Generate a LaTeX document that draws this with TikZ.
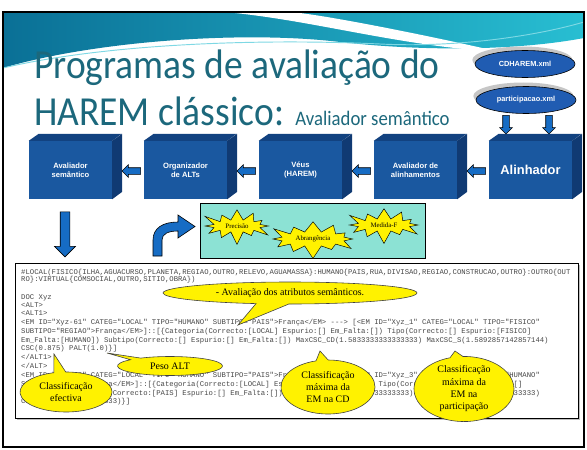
\documentclass[tikz,border=0pt]{standalone}
\usepackage{fontspec}
\usepackage{graphicx}
\setmainfont{Liberation Serif}
\setsansfont{Liberation Sans}
\setmonofont{Liberation Mono}
\newfontfamily\titlefont{Carlito}
\usetikzlibrary{shapes.geometric,shapes.arrows,shapes.symbols,shapes.callouts,shadows}

\definecolor{titleteal}{RGB}{28,104,124}
\definecolor{wavedark}{RGB}{10,112,150}
\definecolor{wavelight}{RGB}{40,190,210}
\definecolor{cubefront}{RGB}{26,88,160}
\definecolor{cubetop}{RGB}{18,66,128}
\definecolor{cubeside}{RGB}{16,58,115}
\definecolor{arrowblue}{RGB}{22,108,196}
\definecolor{filenavy}{RGB}{32,92,178}
\definecolor{aquabox}{RGB}{140,226,212}

\tikzset{
  cubebox/.style={rectangle, fill=cubefront, minimum width=2.49cm, minimum height=1.74cm,
    inner sep=0pt, text=white, align=center, font=\sffamily\bfseries\fontsize{6.5}{8}\selectfont},
  filebox/.style={ellipse, fill=filenavy, draw=black, line width=0.5pt, minimum width=3cm,
    minimum height=0.81cm, inner sep=0pt, text=white, font=\sffamily\bfseries\fontsize{6.3}{7}\selectfont,
    drop shadow={shadow xshift=-0.08cm, shadow yshift=0.12cm, fill=gray!45, opacity=1}},
  blockarrow/.style={single arrow, fill=arrowblue, draw=black, line width=0.5pt, inner sep=0.09cm,
    minimum height=0.56cm, single arrow head extend=0.09cm},
  burst/.style={starburst, starburst points=12, starburst point height=0.42cm, fill=yellow,
    draw=black, line width=0.4pt, inner xsep=0.16cm, inner ysep=0.06cm,
    font=\fontsize{5.8}{6}\selectfont},
  bubble/.style={ellipse callout, fill=yellow, draw=black!75, line width=0.5pt, inner sep=0pt,
    align=center, font=\fontsize{8.5}{10.5}\selectfont},
  codeline/.style={anchor=base west, inner sep=0pt, text=black!72,
    font=\ttfamily\fontsize{6.2}{7}\selectfont}
}

\newcommand\cubesides[1]{%
  \fill[cubetop] (#1.north west) -- ++(10,-7) -- ++(83,0) -- (#1.north east) -- cycle;
  \fill[cubeside] (#1.north east) -- ++(10,-7) -- ++(0,58) -- (#1.south east) -- cycle;}

\begin{document}
\begin{tikzpicture}[x=0.03cm, y=-0.03cm]
\useasboundingbox (0,0) rectangle (587,450);
\fill[white] (0,0) rectangle (587,450);

\shade[left color=wavedark, right color=wavelight] (3,13) -- (584,13) -- (584,38)
  .. controls (520,50) and (430,52) .. (340,42) .. controls (240,30) and (90,42) .. (3,68) -- cycle;
\fill[white] (235,13) .. controls (320,22) and (400,46) .. (500,52) .. controls (430,36) and (340,18) .. (300,13) -- cycle;
\draw[wavelight!60, line width=0.8pt] (3,68) .. controls (100,45) and (250,38) .. (380,44)
  .. controls (460,48) and (540,35) .. (584,22);
\draw[black, line width=1.6pt] (3,12) rectangle (584,447);

\node [anchor=base west, inner sep=0pt, text=titleteal, font=\titlefont\fontsize{32}{36}\selectfont]
  (title1) at (34,78) {\scalebox{1}[1.1]{Programas de avaliação do}};
\node [anchor=base west, inner sep=0pt, text=titleteal, font=\titlefont\fontsize{32}{36}\selectfont]
  (title2) at (34,125) {\scalebox{1}[1.1]{HAREM clássico: {\fontsize{16}{18}\selectfont Avaliador semântico}}};

\node [filebox] (cdharem) at (525,64) {CDHAREM.xml};
\node [filebox] (partic) at (526,100) {participacao.xml};
\node [blockarrow, shape border rotate=270] (down1) at (506,123) {};
\node [blockarrow, shape border rotate=270] (down2) at (549,123) {};

\node [cubebox] (avsem) at (70.5,170) {Avaliador\\semântico};
\node [cubebox] (orgalt) at (185.5,170) {Organizador\\de ALTs};
\node [cubebox] (veus) at (300.5,170) {Véus\\(HAREM)};
\node [cubebox] (avalin) at (415.5,170) {Avaliador de\\alinhamentos};
\node [cubebox, font=\sffamily\bfseries\fontsize{11}{12}\selectfont] (alinh) at (530.5,170) {Alinhador};
\cubesides{avsem}
\cubesides{orgalt}
\cubesides{veus}
\cubesides{avalin}
\cubesides{alinh}

\node [blockarrow, shape border rotate=180] (step1) at (133,171) {};
\node [blockarrow, shape border rotate=180] (step2) at (248,171) {};
\node [blockarrow, shape border rotate=180] (step3) at (363,171) {};
\node [blockarrow, shape border rotate=180] (step4) at (478,171) {};

\node [blockarrow, shape border rotate=270, minimum height=1.35cm, inner sep=0.135cm,
  single arrow head extend=0.17cm] (downlong) at (65,232) {};
\filldraw [fill=arrowblue, draw=black, line width=0.5pt] (153,256) -- (153,240)
  .. controls (153,228) and (163,222) .. (178,222) -- (178,215) -- (195,226.5) -- (178,238)
  -- (178,231) .. controls (168,231) and (162,234) .. (162,240) -- (162,256) -- cycle;

\node [draw=black, fill=aquabox, anchor=north west, inner sep=0pt, minimum width=6.75cm,
  minimum height=1.65cm] (measures) at (200,203) {};
\node [burst] (precisao) at (237,226) {Precisão};
\node [burst] (abrang) at (313,239) {Abrangência};
\node [burst] (medidaf) at (384,225) {Medida-F};

\node [draw=black, fill=white, anchor=north west, inner sep=0pt, minimum width=16.89cm,
  minimum height=4.65cm, drop shadow={shadow xshift=0.05cm, shadow yshift=-0.05cm, fill=gray!50, opacity=1}]
  (codebox) at (15,263) {};
\node [codeline] (l1) at (21,274) {\#LOCAL(FISICO\{ILHA,AGUACURSO,PLANETA,REGIAO,OUTRO,RELEVO,AGUAMASSA\}:HUMANO\{PAIS,RUA,DIVISAO,REGIAO,CONSTRUCAO,OUTRO\}:OUTRO\{OUT};
\node [codeline] (l2) at (21,281.5) {RO\}:VIRTUAL\{COMSOCIAL,OUTRO,SITIO,OBRA\})};
\node [codeline] (l3) at (21,299) {DOC Xyz};
\node [codeline] (l4) at (21,307) {<ALT>};
\node [codeline] (l5) at (21,315.5) {<ALT1>};
\node [codeline] (l6) at (21,324.5) {<EM ID="Xyz-61" CATEG="LOCAL" TIPO="HUMANO" SUBTIPO="PAIS">França</EM> -{}-{}-> [<EM ID="Xyz\_1" CATEG="LOCAL" TIPO="FISICO"};
\node [codeline] (l7) at (21,333) {SUBTIPO="REGIAO">França</EM>]::[\{Categoria(Correcto:[LOCAL] Espurio:[] Em\_Falta:[]) Tipo(Correcto:[] Espurio:[FISICO]};
\node [codeline] (l8) at (21,342) {Em\_Falta:[HUMANO]) Subtipo(Correcto:[] Espurio:[] Em\_Falta:[]) MaxCSC\_CD(1.5833333333333333) MaxCSC\_S(1.5892857142857144)};
\node [codeline] (l9) at (21,350.5) {CSC(0.875) PALT(1.0)\}]};
\node [codeline] (l10) at (21,359.5) {</ALT1>};
\node [codeline] (l11) at (21,368) {</ALT>};
\node [codeline] (l12) at (21,377) {<EM ID="Xyz-62" CATEG="LOCAL" TIPO="HUMANO" SUBTIPO="PAIS">França</EM> -{}-{}-> [<EM ID="Xyz\_3" CATEG="LOCAL" TIPO="HUMANO"};
\node [codeline] (l13) at (21,386) {SUBTIPO="PAIS">França</EM>]::[\{Categoria(Correcto:[LOCAL] Espurio:[] Em\_Falta:[]) Tipo(Correcto:[HUMANO] Espurio:[]};
\node [codeline] (l14) at (21,395) {Em\_Falta:[]) Subtipo(Correcto:[PAIS] Espurio:[] Em\_Falta:[]) MaxCSC\_CD(1.5833333333333333) MaxCSC\_S(1.5833333333333333)};
\node [codeline] (l15) at (21,403.5) {CSC(1.5833333333333333)\}]};

\coordinate (attrtip) at (238,325);
\coordinate (palttip) at (107,353);
\coordinate (csctip) at (54,354);
\coordinate (cdtip) at (320,351);
\coordinate (parttip) at (455,351);
\node [bubble, minimum width=7.62cm, minimum height=0.66cm, callout absolute pointer={(attrtip)}]
  (attrib) at (290,293) {- Avaliação dos atributos semânticos.};
\node [bubble, minimum width=3.15cm, minimum height=0.57cm, callout absolute pointer={(palttip)}]
  (pesoalt) at (170,366) {Peso ALT};
\node [bubble, minimum width=2.76cm, minimum height=1.2cm, callout absolute pointer={(csctip)}]
  (efectiva) at (66,392) {Classificação\\efectiva};
\node [bubble, minimum width=2.82cm, minimum height=1.62cm, callout absolute pointer={(cdtip)}]
  (maxcd) at (328,387) {Classificação\\máxima da\\EM na CD};
\node [bubble, minimum width=3cm, minimum height=1.86cm, callout absolute pointer={(parttip)}]
  (maxpart) at (464,389) {Classificação\\máxima da\\EM na\\participação};
\end{tikzpicture}
\end{document}
